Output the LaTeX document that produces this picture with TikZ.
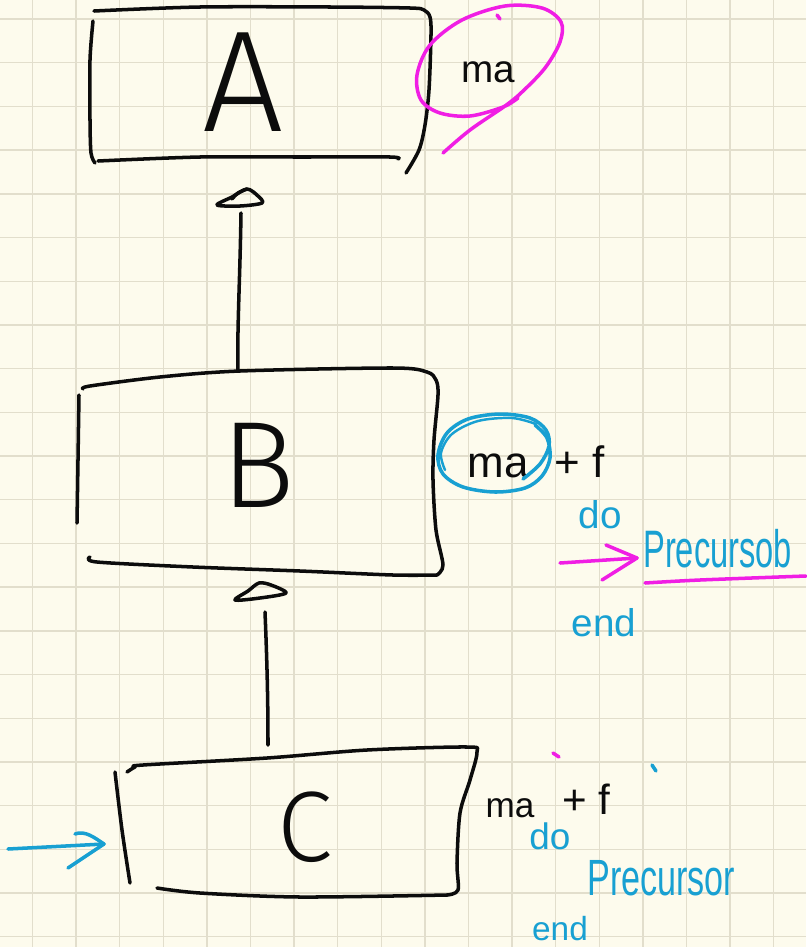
\documentclass[tikz,border=0pt]{standalone}
\usepackage{fontspec}
\setmainfont{Liberation Sans}
\newfontfamily\handletters{Fira Sans Light}
\definecolor{paper}{RGB}{253,251,237}
\definecolor{gridline}{RGB}{226,222,204}
\definecolor{pen}{RGB}{12,12,12}
\definecolor{hilite}{RGB}{240,30,228}
\definecolor{bluepen}{RGB}{24,160,210}
\tikzset{
  ink/.style={draw=pen, line width=2pt, line cap=round, line join=round},
  pinkink/.style={draw=hilite, line width=2pt, line cap=round, line join=round},
  blueink/.style={draw=bluepen, line width=2pt, line cap=round, line join=round},
  gridrule/.style={draw=gridline, line width=0.8pt},
  hand/.style={inner sep=0pt, anchor=base},
  handfont/.style={font=\fontsize{#1}{#1}\selectfont},
  bigletter/.style={inner sep=0pt, anchor=base, text=pen, font=\handletters\fontsize{#1}{#1}\selectfont},
}
\begin{document}
\begin{tikzpicture}[x=0.02cm, y=-0.02cm]
% paper and squared grid
\fill[paper] (0,0) rectangle (806,947);
\useasboundingbox (0,0) rectangle (806,947);
\foreach \i in {0,...,17} \draw[gridrule] (32.5+43.6*\i,0) -- (32.5+43.6*\i,947);
\foreach \j in {0,...,21} \draw[gridrule] (0,19+43.7*\j) -- (806,19+43.7*\j);

% ---------- class A ----------
\draw[ink] plot[smooth, tension=0.5] coordinates {(94,11) (200,7) (330,7) (410,8) (424,10) (430,17) (431,35) (429,90) (425,125) (419,150) (406,173)};
\draw[ink] plot[smooth, tension=0.5] coordinates {(93,21) (90,60) (90,120) (91,153) (95,163)};
\draw[ink] plot[smooth, tension=0.5] coordinates {(98,161) (200,157) (300,157) (390,157) (398,159)};
\node[bigletter=82] (lblA) at (243,131) {A};
\coordinate (Atail) at (241,213);

% note beside A
\node[hand, handfont=22, text=pen] (maA) at (488,82) {ma};
\draw[pinkink] plot[smooth, tension=0.55] coordinates {(518,98) (503,107) (470,116) (440,113) (421,100) (417,75) (430,45) (462,20) (505,6) (542,8) (561,22) (560,42) (545,68) (522,92) (505,106) (470,130) (443,153)};
\draw[pinkink] (497,15) -- (500,19);

% ---------- connector B -> A ----------
\draw[ink] plot[smooth cycle, tension=0.5] coordinates {(217,205) (232,197) (247,189) (258,196) (262,203) (240,206)};
\draw[ink] plot[smooth, tension=0.5] coordinates {(232,199) (238,193) (247,189)};
\coordinate (Atip) at (247,188);

% ---------- class B ----------
\draw[ink] plot[smooth, tension=0.5] coordinates {(83,389) (90,386) (160,377) (240,371) (393,368) (427,372) (436,380) (438,395) (434,440) (433,480) (436,530) (443,565) (437,575)};
\draw[ink] plot[smooth, tension=0.5] coordinates {(79,395) (78,460) (77,523)};
\draw[ink] plot[smooth, tension=0.5] coordinates {(90,557) (97,562) (193,567) (300,571) (393,575) (437,575)};
\node[bigletter=70] (lblB) at (258,507) {B};
\coordinate (Btop) at (238,370);
\coordinate (Btail) at (265,612);
\draw[ink] (Atail) .. controls (240,280) and (237,330) .. (Btop);

% note beside B
\node[hand, handfont=25, text=pen] (maB) at (498,477) {ma};
\node[hand, handfont=25, text=pen, anchor=base west] (plusB) at (554,477) {+ f};
\draw[blueink] plot[smooth, tension=0.55] coordinates {(523,479) (540,464) (549,446) (546,430) (530,418) (500,414) (468,419) (447,433) (438,455) (443,474) (463,487) (495,492) (525,488) (542,476) (550,458) (547,438) (535,425)};
\draw[blueink, line width=1.4pt] plot[smooth, tension=0.55] coordinates {(445,470) (441,453) (452,434) (478,421) (512,418) (536,424)};
\node[hand, handfont=22, text=bluepen] (doB) at (600,528) {do};
\node[hand, handfont=22, text=bluepen] (endB) at (604,636) {end};
\node[hand, handfont=30, text=bluepen, xscale=0.62, anchor=base west] (preB) at (643,567) {Precursob};
\coordinate (arrB) at (560,563);
\draw[pinkink] (arrB) -- (637,558);
\draw[pinkink] (606,545) -- (637,558) -- (602,580);
\draw[pinkink] plot[smooth, tension=0.5] coordinates {(645,583) (700,580) (806,576)};

% ---------- connector C -> B ----------
\draw[ink] plot[smooth cycle, tension=0.5] coordinates {(235,600) (248,591) (259,583) (271,585) (286,593) (260,598)};
\coordinate (Ctop) at (268,745);
\draw[ink] (Btail) .. controls (267,660) and (268,700) .. (Ctop);

% ---------- class C ----------
\draw[ink] plot[smooth, tension=0.5] coordinates {(127,772) (135,767) (143,765) (267,758) (367,750) (467,747) (477,752) (470,780) (460,813) (457,863) (458,890) (447,895)};
\draw[ink] plot[smooth, tension=0.5] coordinates {(447,895) (300,897) (200,893) (157,888)};
\draw[ink] plot[smooth, tension=0.5] coordinates {(115,772) (122,830) (130,883)};
\node[bigletter=57] (lblC) at (305,861) {C};

% note beside C
\node[hand, handfont=20, text=pen] (maC) at (510,817) {ma};
\node[hand, handfont=24, text=pen, anchor=base west] (plusC) at (562,814) {+ f};
\draw[pinkink] (553,753) -- (559,757);
\draw[blueink] (652,765) -- (656,771);
\node[hand, handfont=21, text=bluepen] (doC) at (550,849) {do};
\node[hand, handfont=29, text=bluepen, xscale=0.67, anchor=base west] (preC) at (587,895) {Precursor};
\node[hand, handfont=19, text=bluepen] (endC) at (560,940) {end};

% entry arrow into C
\coordinate (entry) at (8,849);
\coordinate (entryTip) at (104,844);
\draw[blueink] (entry) -- (entryTip);
\draw[blueink] (75,834) .. controls (85,830) and (95,838) .. (entryTip) -- (68,868);
\end{tikzpicture}
\end{document}
